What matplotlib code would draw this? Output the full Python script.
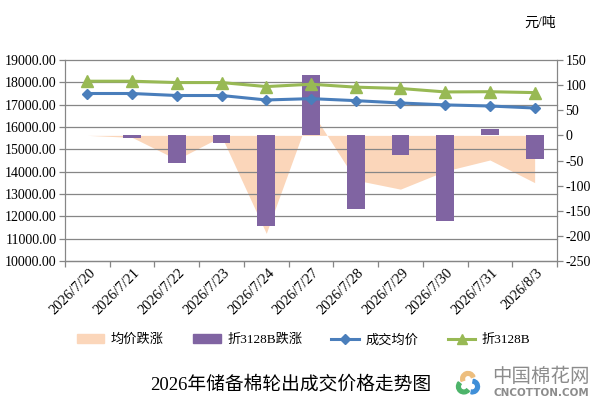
import numpy as np
import matplotlib
matplotlib.use('Agg')
import matplotlib.pyplot as plt
import matplotlib.transforms as mtrans
from matplotlib.patches import Wedge, Patch
from matplotlib.lines import Line2D
from matplotlib.ticker import FormatStrFormatter, MultipleLocator

plt.rcParams['font.family'] = ['Liberation Serif', 'Noto Sans CJK SC', 'DejaVu Sans']
plt.rcParams['axes.unicode_minus'] = False

# data
dates = ['2026/7/20', '2026/7/21', '2026/7/22', '2026/7/23', '2026/7/24', '2026/7/27',
         '2026/7/28', '2026/7/29', '2026/7/30', '2026/7/31', '2026/8/3']
avg_price = [17500, 17500, 17410, 17410, 17210, 17270, 17180, 17075, 16990, 16940, 16850]
price_3128 = [18050, 18050, 17990, 17990, 17810, 17915, 17785, 17725, 17570, 17580, 17540]
avg_change = [0, -4, -48, -2, -195, 50, -89, -107, -71, -49, -94]
change_3128 = [0, -6, -54, -16, -181, 120, -146, -40, -170, 13, -48]

c_area = '#FBD6BA'
c_bar = '#8064A2'
c_blue = '#4A7EBB'
c_green = '#98B954'
c_axis = '#868686'

fig = plt.figure(figsize=(6, 4.05), dpi=100)
ax = fig.add_axes([65 / 600, 1 - 261 / 405, 492 / 600, 201 / 405])
ax2 = ax.twinx()
ax.set_zorder(ax2.get_zorder() + 1)
ax.patch.set_visible(False)

x = np.arange(len(dates))

# right axis: area + bars, grid in between
ax2.fill_between(x, avg_change, 0, color=c_area, lw=0, zorder=1)
for v in range(10000, 19001, 1000):
    ax2.plot([0, 1], [v, v], transform=ax.get_yaxis_transform(),
             color=c_axis, lw=0.9, zorder=1.5, clip_on=False)
ax2.bar(x, change_3128, width=0.4, color=c_bar, zorder=2)
ax2.set_ylim(-250, 150)
ax2.yaxis.set_major_locator(MultipleLocator(50))

# left axis: the two price lines
ax.plot(x, avg_price, color=c_blue, lw=2.2, marker='D', ms=5.5, zorder=3)
ax.plot(x, price_3128, color=c_green, lw=2.2, marker='^', ms=8, zorder=3)
ax.set_ylim(10000, 19000)
ax.set_xlim(-0.5, len(dates) - 0.5)
ax.yaxis.set_major_locator(MultipleLocator(1000))
ax.yaxis.set_major_formatter(FormatStrFormatter('%.2f'))

for a in (ax, ax2):
    for s in a.spines.values():
        s.set_color(c_axis)
    a.spines['top'].set_visible(False)
    a.tick_params(axis='y', colors=c_axis, labelcolor='black', labelsize=10,
                  length=4, width=0.9, pad=2)

ax.set_xticks(x)
ax.set_xticks(np.arange(-0.5, len(dates), 1), minor=True)
ax.tick_params(axis='x', which='major', length=0, pad=4, labelsize=10.5)
ax.tick_params(axis='x', which='minor', length=4, width=0.9, color=c_axis)
ax.set_xticklabels(dates, rotation=45, ha='right', va='center', rotation_mode='anchor')
offset = mtrans.ScaledTranslation(6 / 100, -4 / 100, fig.dpi_scale_trans)
for lab in ax.get_xticklabels():
    lab.set_transform(lab.get_transform() + offset)

fig.text(540 / 600, 1 - 23 / 405, '元/吨', fontsize=10, ha='center', va='center')

handles = [Patch(color=c_area), Patch(color=c_bar),
           Line2D([], [], color=c_blue, lw=2.2, marker='D', ms=5.5),
           Line2D([], [], color=c_green, lw=2.2, marker='^', ms=7)]
fig.legend(handles, ['均价跌涨', '折3128B跌涨', '成交均价', '折3128B'],
           loc='center', bbox_to_anchor=(0.506, 1 - 340 / 405), ncol=4,
           frameon=False, fontsize=9.5, handlelength=2.1, handletextpad=0.5,
           columnspacing=2.2, numpoints=1)

fig.text(291 / 600, 1 - 385 / 405, '2026年储备棉轮出成交价格走势图',
         fontsize=13.5, ha='center', va='center')

# logo bottom right
lax = fig.add_axes([455 / 600, 1 - 396 / 405, 26 / 600, 26 / 405])
lax.set_xlim(-1.1, 1.1)
lax.set_ylim(-1.1, 1.1)
lax.set_aspect('equal')
lax.axis('off')
for t1, t2, col, cx, cy in [(20, 200, '#EDBE7E', 0, 0.35),
                            (140, 320, '#4DB46A', -0.35, -0.3),
                            (260, 80, '#3F8FD8', 0.35, -0.3)]:
    lax.add_patch(Wedge((cx, cy), 0.62, t1, t2, width=0.32, color=col))
fig.text(541 / 600, 1 - 377 / 405, '中国棉花网', fontsize=14, color='#8C8C8C',
         ha='center', va='center', family=['Noto Sans CJK SC'])
fig.text(541 / 600, 1 - 393 / 405, 'CNCOTTON.COM', fontsize=7.5, color='#8C8C8C',
         ha='center', va='center', family=['DejaVu Sans'], weight='bold')

fig.savefig('out.png', dpi=100)
